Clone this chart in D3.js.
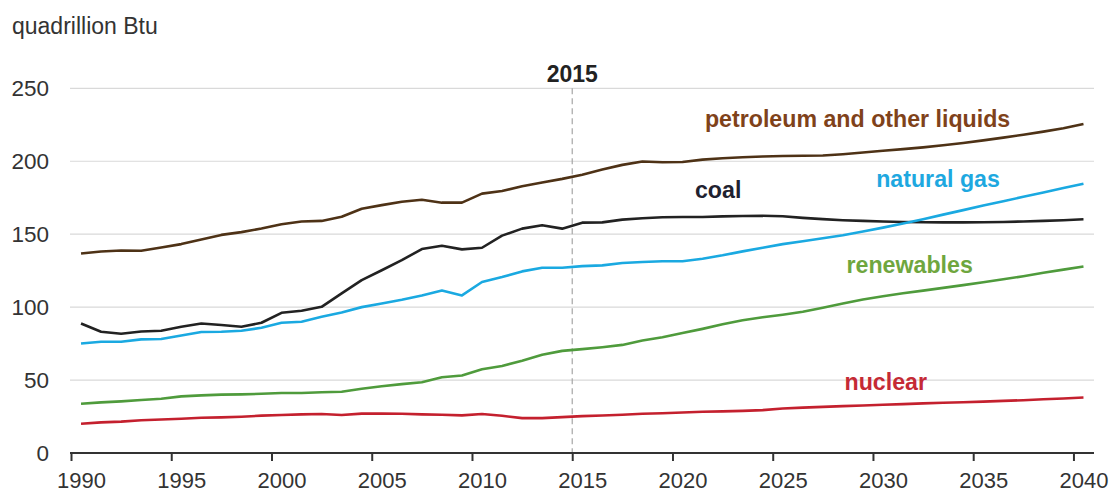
<!DOCTYPE html>
<html>
<head>
<meta charset="utf-8">
<script src="https://cdn.jsdelivr.net/npm/d3@7"></script>
<style>
  html, body { margin: 0; padding: 0; background: #fff; }
  svg { display: block; font-family: "Liberation Sans", Arial, sans-serif; }
</style>
</head>
<body>
<svg id="chart" width="1110" height="492"></svg>
<script>
// ---- data ----
const years = d3.range(1990, 2041);
const petroleum = [136.8,138.1,138.8,138.6,140.9,143.2,146.3,149.5,151.4,153.9,
  156.8,158.7,159.1,161.9,167.4,169.9,172.2,173.6,171.6,171.6,
  177.8,179.6,182.8,185.4,187.9,190.8,194.3,197.5,199.8,199.3,
  199.5,201.1,202.1,202.7,203.3,203.6,203.8,203.9,204.8,206.0,
  207.2,208.3,209.5,211.0,212.5,214.3,216.2,218.2,220.3,222.6,225.5];
const coal = [88.8,83.1,81.7,83.3,83.8,86.5,88.8,87.7,86.5,89.3,
  96.1,97.5,100.2,109.4,118.5,125.3,132.2,139.8,142.1,139.6,
  140.7,149.0,153.8,156.1,153.8,157.9,158.1,160.0,160.9,161.6,
  161.8,161.8,162.2,162.5,162.6,162.3,161.2,160.3,159.6,159.1,
  158.7,158.4,158.2,158.1,158.1,158.2,158.4,158.7,159.1,159.6,160.2];
const naturalGas = [75.1,76.3,76.3,77.9,78.1,80.6,82.9,83.1,83.8,85.8,
  89.3,90.0,93.4,96.3,100.0,102.5,105.0,108.0,111.4,108.0,
  117.2,120.6,124.5,127.0,127.0,128.1,128.6,130.2,130.9,131.4,
  131.4,133.2,135.5,138.2,140.7,143.2,145.2,147.2,149.3,151.8,
  154.5,157.3,160.2,163.4,166.5,169.6,172.6,175.6,178.6,181.6,184.5];
const renewables = [33.8,34.7,35.4,36.3,37.2,38.8,39.5,40.0,40.2,40.6,
  41.1,41.1,41.6,42.0,44.0,45.8,47.2,48.5,51.9,53.1,
  57.4,59.7,63.2,67.3,70.0,71.2,72.5,74.1,77.1,79.4,
  82.2,85.1,88.2,91.0,93.0,94.8,96.8,99.5,102.5,105.2,
  107.5,109.5,111.3,113.2,115.1,117.0,119.1,121.2,123.5,125.7,127.9];
const nuclear = [20.1,21.0,21.5,22.4,23.0,23.5,24.2,24.4,24.9,25.6,
  26.0,26.5,26.7,26.0,27.0,27.0,26.9,26.5,26.2,25.8,
  26.7,25.5,23.9,23.9,24.6,25.3,25.7,26.2,26.9,27.3,
  27.8,28.3,28.5,28.9,29.4,30.5,31.1,31.6,32.1,32.6,
  33.1,33.5,34.0,34.4,34.8,35.2,35.7,36.2,36.8,37.4,38.0];
const seriesNames = ["petroleum and other liquids","coal","natural gas","renewables","nuclear"];
const yTicks = [0,50,100,150,200,250];
const xTicks = [1990,1995,2000,2005,2010,2015,2020,2025,2030,2035,2040];
const historyEnd = 2015;
const unitLabel = "quadrillion Btu";

// ---- styles ----
const lineColors = ["#4e3216","#222222","#1aa9e1","#4f9b3c","#c4202e"];
const labelColors = ["#7f421a","#1f2230","#1ea8e0","#6fa63e","#c52a35"];
// label anchors in data units [year, value]
const labelPos = [[2021.62,223.4],[2021.12,174.6],[2030.16,182.5],[2028.68,123.6],[2028.58,43.2]];

const svg = d3.select("#chart");
const x = d3.scaleLinear().domain([1990, 2041]).range([71, 1093.5]);
const y = d3.scaleLinear().domain([0, 250]).range([453, 88.3]);

// gridlines
svg.append("g").selectAll("line")
  .data(yTicks.filter(d => d > 0))
  .join("line")
  .attr("x1", 70).attr("x2", 1094)
  .attr("y1", d => y(d)).attr("y2", d => y(d))
  .attr("stroke", "#d9d9d9").attr("stroke-width", 1.2);

// y axis labels
const yAxis = svg.append("g").attr("transform", `translate(${x(1990)},0)`)
  .call(d3.axisLeft(y).tickValues(yTicks).tickSize(0).tickPadding(22).tickFormat(d3.format("d")));
yAxis.select(".domain").remove();
yAxis.selectAll("text").attr("font-size", 22.5).attr("fill", "#333").attr("font-family", "Liberation Sans, Arial, sans-serif");

// 2015 dashed line
svg.append("line")
  .attr("x1", x(historyEnd)).attr("x2", x(historyEnd))
  .attr("y1", y(250)).attr("y2", y(0))
  .attr("stroke", "#a6a6a6").attr("stroke-width", 1.2).attr("stroke-dasharray", "6,4");
svg.append("text")
  .attr("x", x(historyEnd)).attr("y", y(254.6))
  .attr("text-anchor", "middle").attr("font-weight", "bold").attr("font-size", 23)
  .attr("fill", "#222").text(String(historyEnd));

// lines
const all = [petroleum, coal, naturalGas, renewables, nuclear];
const line = d3.line().x((d, i) => x(years[i] + 0.5)).y(d => y(d));
svg.append("g").selectAll("path")
  .data(all)
  .join("path")
  .attr("d", d => line(d))
  .attr("fill", "none")
  .attr("stroke", (d, i) => lineColors[i])
  .attr("stroke-width", 2.6)
  .attr("stroke-linejoin", "round");

// series labels
svg.append("g").selectAll("text")
  .data(seriesNames)
  .join("text")
  .attr("x", (d, i) => x(labelPos[i][0]))
  .attr("y", (d, i) => y(labelPos[i][1]))
  .attr("font-weight", "bold").attr("font-size", 23.2)
  .attr("fill", (d, i) => labelColors[i])
  .text(d => d);

// x axis
const xAxis = svg.append("g").attr("transform", `translate(0,${y(0)})`)
  .call(d3.axisBottom(x).tickValues(xTicks).tickSize(8).tickSizeOuter(0).tickPadding(11).tickFormat(d3.format("d")));
xAxis.select(".domain").attr("d", `M70,0H1094`).attr("stroke", "#333").attr("stroke-width", 2);
xAxis.selectAll(".tick line").attr("stroke", "#333").attr("stroke-width", 2);
xAxis.selectAll("text")
  .attr("x", x(1990.5) - x(1990))
  .attr("font-size", 22).attr("fill", "#333").attr("font-family", "Liberation Sans, Arial, sans-serif");

// unit label
svg.append("text").attr("x", 12).attr("y", 34)
  .attr("font-size", 23).attr("fill", "#333").text(unitLabel);
</script>
</body>
</html>
